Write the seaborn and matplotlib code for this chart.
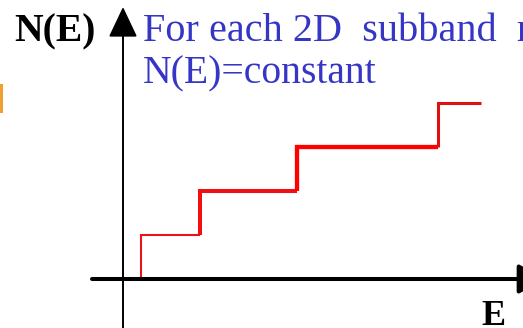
import matplotlib
matplotlib.use("Agg")
import matplotlib.pyplot as plt
from matplotlib.patches import FancyArrowPatch, Rectangle
import numpy as np
import pandas as pd
import seaborn as sns

# Subband edge energies (arb. units) and the density-of-states level of each plateau
subband_edges = [0.18, 0.77, 1.74, 3.15]
energy_end = 3.58
dos_levels = [1, 2, 3, 4]
step_widths = [1.5, 2.9, 3.1, 2.2]
step_colors = ["#e8141a", "#f20f12", "#ff0000", "#e01010"]

title_line1 = "For each 2D  subband  n"
title_line2 = "N(E)=constant"
y_label = "N(E)"
x_label = "E"

sns.set_theme(style="white")
plt.rcParams["font.family"] = ["Liberation Serif", "DejaVu Serif"]

fig = plt.figure(figsize=(5.23, 3.28), dpi=100)
ax = fig.add_axes([0, 0, 1, 1])
ax.set_xlim(-1.23, 4.00)
ax.set_ylim(-49 / 44, 279 / 44)
ax.axis("off")

# Staircase: one riser + tread per subband
edges_next = subband_edges[1:] + [energy_end]
prev_levels = [0] + dos_levels[:-1]
for e0, e1, n0, n1, lw, c in zip(subband_edges, edges_next, prev_levels,
                                  dos_levels, step_widths, step_colors):
    seg = pd.DataFrame({"E": [e0, e0, e1], "N": [n0, n1, n1]})
    sns.lineplot(data=seg, x="E", y="N", sort=False, estimator=None, ax=ax,
                 color=c, lw=lw, solid_joinstyle="miter",
                 solid_capstyle="butt", zorder=3)

# Axes with arrow heads
y_top = (279 - 7) / 44
ax.add_patch(FancyArrowPatch((0, ax.get_ylim()[0]), (0, y_top),
                             arrowstyle="-|>,head_length=19,head_width=9",
                             mutation_scale=1, lw=1.4, color="black",
                             shrinkA=0, shrinkB=0, zorder=4))
ax.add_patch(FancyArrowPatch((-0.31, 0), (4.22, 0),
                             arrowstyle="-|>,head_length=16,head_width=9",
                             mutation_scale=1, lw=2.9, color="black",
                             shrinkA=0, shrinkB=0, zorder=4))

# Labels
ax.text(-1.09, (279 - 41) / 44, y_label, fontsize=28.5, fontweight="bold",
        color="black", ha="left", va="baseline")
ax.text(3.585, (279 - 300) / 44, x_label, fontsize=26, fontweight="bold",
        color="black", ha="left", va="top")
blue = "#3636c6"
ax.text(0.20, (279 - 41) / 44, title_line1, fontsize=29, color=blue,
        ha="left", va="baseline", clip_on=True)
ax.text(0.20, (279 - 83) / 44, title_line2, fontsize=28.5, color=blue,
        ha="left", va="baseline")

# Clipped orange mark at the left edge
fig.add_artist(Rectangle((0, 1 - 113 / 328), 3 / 523, 29 / 328,
                         transform=fig.transFigure, color="#f0a030", lw=0))

fig.savefig("out.png", dpi=100)
